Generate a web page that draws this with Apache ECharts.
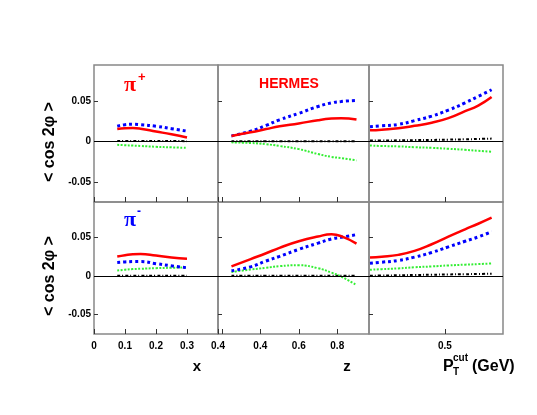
<!DOCTYPE html>
<html><head><meta charset="utf-8">
<script src="https://cdn.jsdelivr.net/npm/echarts@6/dist/echarts.min.js"></script>
<style>html,body{margin:0;padding:0;background:#fff}#c{width:537px;height:415px}</style>
</head><body><div id="c"></div>
<script>
// ---- data ----
const xVals = [0.075, 0.1, 0.125, 0.15, 0.2, 0.25, 0.3];
const zVals = [0.25, 0.35, 0.43, 0.5, 0.6, 0.7, 0.77, 0.82, 0.9];
const ptVals = [0.204, 0.25, 0.316, 0.38, 0.448, 0.514, 0.58, 0.632, 0.685];

// pi+ (top row)
const piPlusX_red   = [0.0155, 0.0165, 0.0168, 0.016, 0.0125, 0.009, 0.005];
const piPlusX_blue  = [0.019, 0.021, 0.0215, 0.021, 0.019, 0.016, 0.013];
const piPlusX_green = [-0.004, -0.0045, -0.005, -0.0055, -0.0065, -0.0072, -0.0078];
const piPlusX_black = [0.0008, 0.0008, 0.0007, 0.0007, 0.0006, 0.0006, 0.0005];

const piPlusZ_red   = [0.007, 0.0115, 0.0155, 0.019, 0.0225, 0.0265, 0.0285, 0.029, 0.0275];
const piPlusZ_blue  = [0.007, 0.013, 0.020, 0.027, 0.035, 0.0435, 0.048, 0.0497, 0.051];
const piPlusZ_green = [-0.001, -0.0018, -0.0033, -0.0055, -0.0094, -0.0155, -0.019, -0.0205, -0.0234];
const piPlusZ_black = [0.0005, 0.0005, 0.0005, 0.0005, 0.0005, 0.0005, 0.0005, 0.0005, 0.0005];

const piPlusPt_red   = [0.0139, 0.0148, 0.0164, 0.0195, 0.0234, 0.029, 0.0377, 0.0447, 0.0553];
const piPlusPt_blue  = [0.0184, 0.0195, 0.0213, 0.026, 0.0316, 0.039, 0.048, 0.056, 0.0643];
const piPlusPt_green = [-0.0049, -0.0055, -0.006, -0.007, -0.0078, -0.009, -0.0102, -0.0115, -0.0127];
const piPlusPt_black = [0.0012, 0.0013, 0.0015, 0.0018, 0.002, 0.0024, 0.0028, 0.0032, 0.0037];

// pi- (bottom row)
const piMinusX_red   = [0.0248, 0.0265, 0.0278, 0.028, 0.026, 0.0235, 0.0218];
const piMinusX_blue  = [0.0171, 0.0178, 0.0183, 0.0183, 0.0156, 0.0128, 0.0103];
const piMinusX_green = [0.0068, 0.0078, 0.0086, 0.009, 0.0098, 0.0103, 0.0107];
const piMinusX_black = [0, 0, 0, 0, 0, 0, 0];

const piMinusZ_red   = [0.012, 0.0215, 0.029, 0.036, 0.0444, 0.0505, 0.0534, 0.051, 0.0414];
const piMinusZ_blue  = [0.0064, 0.0115, 0.019, 0.025, 0.034, 0.042, 0.0475, 0.0495, 0.053];
const piMinusZ_green = [0.0047, 0.0081, 0.0102, 0.0124, 0.0135, 0.0097, 0.004, -0.001, -0.012];
const piMinusZ_black = [0, 0, 0, 0, 0, 0, 0, 0, 0];

const piMinusPt_red   = [0.0235, 0.0245, 0.0269, 0.032, 0.0406, 0.0504, 0.0598, 0.067, 0.0748];
const piMinusPt_blue  = [0.0162, 0.0175, 0.0197, 0.024, 0.03, 0.0372, 0.0444, 0.050, 0.0568];
const piMinusPt_green = [0.0077, 0.0085, 0.0095, 0.011, 0.012, 0.0133, 0.0143, 0.015, 0.0158];
const piMinusPt_black = [0, 0.0003, 0.0006, 0.001, 0.0013, 0.0017, 0.002, 0.0023, 0.0026];

const yTicks = [-0.05, 0, 0.05];
const xTicksX = [0, 0.1, 0.2, 0.3, 0.4];
const xTicksZ = [0.2, 0.4, 0.6, 0.8];
const xLabelsZ = [0.4, 0.6, 0.8];
const xTicksPt = [0.5];

// ---- layout ----
const colLeft = [94, 218, 369], colWidth = [124, 151, 134];
const rowTop = [65, 202], rowHeight = [137, 132];
const xRanges = [[0, 0.4], [0.18, 0.965], [0.2, 0.73]];
const font = 'Liberation Sans, Arial, Helvetica, sans-serif';

const panels = [
  {row:0, col:0, xs:xVals, d:[piPlusX_red, piPlusX_blue, piPlusX_green, piPlusX_black]},
  {row:0, col:1, xs:zVals, d:[piPlusZ_red, piPlusZ_blue, piPlusZ_green, piPlusZ_black]},
  {row:0, col:2, xs:ptVals, d:[piPlusPt_red, piPlusPt_blue, piPlusPt_green, piPlusPt_black]},
  {row:1, col:0, xs:xVals, d:[piMinusX_red, piMinusX_blue, piMinusX_green, piMinusX_black]},
  {row:1, col:1, xs:zVals, d:[piMinusZ_red, piMinusZ_blue, piMinusZ_green, piMinusZ_black]},
  {row:1, col:2, xs:ptVals, d:[piMinusPt_red, piMinusPt_blue, piMinusPt_green, piMinusPt_black]}
];
const styles = [
  {color:'#ff0000', width:2.5, type:'solid'},
  {color:'#0000ff', width:3, type:[3,3]},
  {color:'#33ee33', width:2, type:[2,1.5]},
  {color:'#000000', width:2, type:[3,2,1,2]}
];

const grid = [], xAxis = [], yAxis = [], series = [];
panels.forEach((p, i) => {
  grid.push({left: colLeft[p.col], top: rowTop[p.row], width: colWidth[p.col], height: rowHeight[p.row],
    show: true, borderColor: '#888', borderWidth: 1.5, backgroundColor: 'transparent'});
  const tickVals = p.col === 0 ? xTicksX : (p.col === 1 ? xTicksZ : xTicksPt);
  const labVals = p.col === 0 ? xTicksX : (p.col === 1 ? xLabelsZ : xTicksPt);
  xAxis.push({type:'value', gridIndex:i, min:xRanges[p.col][0], max:xRanges[p.col][1], position:'bottom',
    axisLine:{show:false, onZero:false}, splitLine:{show:false},
    axisTick:{show:true, inside:true, length:5, customValues:tickVals, lineStyle:{color:'#333', width:1}},
    axisLabel:{show: p.row === 1, customValues:labVals, margin:7, color:'#000', fontWeight:'bold', fontSize:10, fontFamily:font,
      formatter: v => (v === 0 ? '0' : String(Math.round(v*10)/10))}
  });
  yAxis.push({type:'value', gridIndex:i, min:-0.075, max:0.095, position:'left',
    axisLine:{show:false, onZero:false}, splitLine:{show:false},
    axisTick:{show:true, inside:true, length:4, customValues:yTicks, lineStyle:{color:'#333', width:1}},
    axisLabel:{show: p.col === 0, customValues:yTicks, margin:3, color:'#000', fontWeight:'bold', fontSize:10, fontFamily:font,
      formatter: v => (Math.abs(v) < 1e-9 ? '0' : (v > 0 ? '0.05' : '-0.05'))}
  });
  p.d.forEach((arr, k) => {
    const s = {type:'line', xAxisIndex:i, yAxisIndex:i, smooth:true, showSymbol:false, silent:true,
      data: p.xs.map((x, j) => [x, arr[j]]), lineStyle: styles[k], z: 3 + (3-k)};
    if (k === 0) {
      s.markLine = {silent:true, symbol:'none', label:{show:false}, animation:false,
        lineStyle:{color:'#000', width:1, type:'solid'}, data:[{yAxis:0}]};
    }
    series.push(s);
  });
});

const bold = 'bold 16px ' + font;
const piFont = 'bold 22px "Liberation Serif", "DejaVu Serif", serif';
const graphic = [
  {type:'text', x:50, y:142, rotation:Math.PI/2, style:{text:'< cos 2φ >', font:bold, fill:'#000', align:'center', verticalAlign:'middle'}},
  {type:'text', x:50, y:276, rotation:Math.PI/2, style:{text:'< cos 2φ >', font:bold, fill:'#000', align:'center', verticalAlign:'middle'}},
  {type:'text', x:124, y:85, style:{text:'π', font:piFont, fill:'#ff0000', align:'left', verticalAlign:'middle'}},
  {type:'text', x:138, y:77, style:{text:'+', font:'bold 13px ' + font, fill:'#ff0000', align:'left', verticalAlign:'middle'}},
  {type:'text', x:124, y:220, style:{text:'π', font:piFont, fill:'#0000ff', align:'left', verticalAlign:'middle'}},
  {type:'text', x:137, y:212, style:{text:'-', font:'bold 12px ' + font, fill:'#0000ff', align:'left', verticalAlign:'middle'}},
  {type:'text', x:289, y:84, style:{text:'HERMES', font:'bold 14px ' + font, fill:'#ff0000', align:'center', verticalAlign:'middle'}},
  {type:'text', x:197, y:367, style:{text:'x', font:'bold 15px ' + font, fill:'#000', align:'center', verticalAlign:'middle'}},
  {type:'text', x:347, y:367, style:{text:'z', font:'bold 15px ' + font, fill:'#000', align:'center', verticalAlign:'middle'}},
  {type:'text', x:443, y:367, style:{text:'P', font:'bold 16px ' + font, fill:'#000', align:'left', verticalAlign:'middle'}},
  {type:'text', x:453, y:358, style:{text:'cut', font:'bold 10px ' + font, fill:'#000', align:'left', verticalAlign:'middle'}},
  {type:'text', x:453, y:372, style:{text:'T', font:'bold 10px ' + font, fill:'#000', align:'left', verticalAlign:'middle'}},
  {type:'text', x:472, y:367, style:{text:'(GeV)', font:'bold 16px ' + font, fill:'#000', align:'left', verticalAlign:'middle'}}
];

const chart = echarts.init(document.getElementById('c'), null, {renderer:'canvas'});
chart.setOption({animation:false, backgroundColor:'#fff', grid, xAxis, yAxis, series, graphic});
</script></body></html>
